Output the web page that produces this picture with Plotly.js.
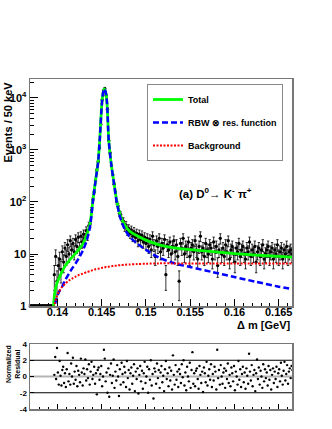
<!DOCTYPE html>
<html><head><meta charset="utf-8">
<script src="https://cdn.plot.ly/plotly-3.0.1.min.js"></script>
<style>html,body{margin:0;padding:0;background:#fff}#chart{width:332px;height:429px}</style>
</head><body><div id="chart"></div>
<script>
// ---- data ----
const binStart = 0.13665;   // centre of first data bin shown
const binWidth = 0.00015;
const counts = [
 0,0,0,0,0,0,0,0,0,0,0,0,0,0,0,0,0,0,0,0,
 4,9,3,6,8,5,11,7,13,9,15,10,18,12,16,11,19,14,21,13,22,17,24,20,28,23,35,38,70,
 110,155,260,410,600,1100,3100,9200,13800,15200,11200,6100,1530,880,500,335,220,155,100,84,
 60,57,44,43,33,36,28,31,25,29,22,27,21,25,18,24,19,23,17,21,16,
 20,14,19,12,22,15,9,18,14,20,
 11,16,13,19,4,15,12,17,10,14,
 18,11,15,9,3,16,13,20,10,14,
 12,17,9,13,15,11,18,12,8,14,
 22,11,13,9,16,12,10,15,13,8,
 17,11,14,6,12,20,10,13,9,15,
 11,18,8,12,14,10,7,13,11,16,
 9,12,14,10,8,13,11,17,9,12,
 10,14,7,11,13,9,12,15,8,10,
 12,14,9,11,13,8,12,10,15,9,
 11,13,8,12,10,14,9,11,12,10
];
const fitX = [0.13955,0.1397,0.1399,0.1402,0.1405,0.1409,0.1413,0.1417,0.1421,0.1425,0.1429,0.1433,0.1437,0.1440,0.1443,0.1446,0.1448,0.1450,0.14515,0.1453,0.14545,0.1456,0.1458,0.1461,0.1464,0.1467,0.1471,0.1476,0.1482,0.149,0.150,0.1515,0.153,0.155,0.1575,0.160,0.1625,0.165,0.1666];
const totalFit = [1.0,1.8,2.6,3.5,4.5,6.0,7.4,8.8,10.5,12.8,16,23,40,105,255,605,1805,7005,12505,15005,13005,8005,1505,505,226,106,56,36,27,22.5,18.5,15,13.2,12.1,11.1,10.2,9.5,9.0,8.7];
const rbwFit = [0.5,1.0,1.4,1.9,2.3,3.2,4.2,5.4,6.8,8.8,12,18,35,100,250,600,1800,7000,12500,15000,13000,8000,1500,500,220,100,50,30,21,16,12,8.5,6.8,5.6,4.5,3.6,2.9,2.35,2.1];
const bkgFit = [0.5,1.1,1.5,1.9,2.3,2.7,3.1,3.4,3.7,4.0,4.2,4.5,4.7,4.9,5.1,5.2,5.3,5.4,5.5,5.5,5.6,5.6,5.7,5.8,5.9,6.0,6.1,6.2,6.3,6.4,6.5,6.6,6.6,6.6,6.6,6.6,6.6,6.6,6.6];
const residStart = 0.13965;
const residStep = 0.0001;
const residuals = [
 0.2,2.4,-0.3,3.5,0.5,-1.0,1.9,0.1,-1.1,0.8,
 1.2,-0.8,0.4,-1.3,0.9,2.9,-0.6,0.3,-1.0,1.6,
 0.0,2.3,-0.9,0.6,-0.4,1.3,-1.2,0.7,0.2,-0.7,
 2.2,0.5,-1.1,1.0,0.3,2.1,-0.5,0.9,-0.2,1.5,
 -1.0,0.6,1.8,-0.3,0.2,1.2,-0.9,0.4,-2.2,0.8,
 1.1,-0.4,0.3,1.3,-1.2,0.0,3.3,2.2,-0.6,0.5,
 -2.0,1.0,-2.5,0.2,1.6,-0.8,0.1,2.1,-1.4,0.6,
 -0.5,1.4,0.0,-2.4,0.9,-1.0,1.7,0.3,-0.7,1.2,
 0.5,-1.3,1.9,-0.2,0.8,-1.6,0.4,1.1,-0.9,0.1,
 1.5,-1.8,0.6,-0.3,1.0,-2.1,0.2,1.3,-0.6,0.7,
 -1.5,0.4,1.8,-0.8,0.0,1.2,-2.0,0.9,-0.4,2.0,
 -1.1,0.3,-2.7,1.0,0.6,-0.9,1.6,-0.2,0.8,-1.4,
 0.5,1.3,-0.7,0.1,-1.8,0.9,1.9,-0.3,0.4,-1.2,
 1.1,-0.5,0.7,-1.6,2.6,0.2,-1.0,1.4,-0.4,0.6,
 -1.3,0.9,0.3,-0.8,1.5,-0.1,2.0,-1.1,0.5,-1.7,
 1.2,0.0,-0.6,1.7,-1.4,0.8,3.0,-0.9,0.4,-1.2,
 0.7,1.0,-0.3,-1.5,1.3,0.2,-0.8,0.6,-1.9,1.1,
 0.4,-0.7,1.8,-1.1,0.1,0.9,-0.4,1.5,-1.3,0.3,
 -0.5,1.2,0.6,-1.6,3.3,-0.2,0.8,-1.0,1.4,0.0,
 -0.9,0.5,1.0,-1.4,0.7,-0.3,1.6,-0.8,0.2,-1.2,
 1.1,0.4,-0.6,1.3,-1.7,0.6,0.0,-1.0,1.9,-0.4,
 0.9,-1.3,0.3,1.2,-0.7,0.5,-1.5,1.0,0.1,-0.9,
 2.8,0.6,-0.5,1.4,-1.2,0.2,0.8,-1.8,0.4,2.1,
 -0.3,1.1,-1.0,0.7,0.0,-1.4,1.5,-0.6,0.9,-0.2,
 0.5,-1.1,1.3,-0.4,0.8,-1.6,0.2,1.0,-0.8,0.6,
 -0.3,1.2,-1.3,0.4,0.9,-0.6,1.7,0.1,-1.0,0.7,
 1.8,-0.5,0.3,1.4,-0.9,0.6,1.0,-0.2,1.3,0.8
];
const xTickVals = [0.14,0.145,0.15,0.155,0.16,0.165];
const xTickText = ['0.14','0.145','0.15','0.155','0.16','0.165'];
const yTickVals = [1,10,100,1000,10000];
const yTickText = ['1','10','10<sup>2</sup>','10<sup>3</sup>','10<sup>4</sup>'];
const resTickVals = [-4,-2,0,2,4];
const resTickText = ['-4','-2','0','2','4'];
const seriesNames = ['Total','RBW \u2297 res. function','Background'];

// ---- build traces ----
const dataX = counts.map((c,i)=>binStart+i*binWidth);
const filledX=[], filledY=[], filledErr=[], emptyX=[], emptyY=[];
counts.forEach((c,i)=>{
  if(c>0){filledX.push(dataX[i]);filledY.push(c);filledErr.push(Math.sqrt(c));}
  else {emptyX.push(dataX[i]);emptyY.push(1);} // empty bins drawn at the axis floor, as ROOT does on log scale
});
const residX = residuals.map((r,k)=>residStart+k*residStep);

const minorY=[];
for(let d=0; d<5; d++){for(let k=2;k<10;k++){const v=k*Math.pow(10,d); if(v<23000) minorY.push(v);}}

const F = 'Liberation Sans, Arial, Helvetica, sans-serif';
const traces = [
 {x:filledX, y:filledY, type:'scatter', mode:'markers', xaxis:'x', yaxis:'y', showlegend:false,
  marker:{color:'#000', size:3.3},
  error_y:{type:'data', array:filledErr, visible:true, color:'#000', thickness:0.8, width:1.2}},
 {x:emptyX, y:emptyY, type:'scatter', mode:'lines+markers', xaxis:'x', yaxis:'y', showlegend:false, cliponaxis:false,
  marker:{color:'#000', size:3.3, symbol:'square'}, line:{color:'#000', width:2}},
 {x:fitX, y:totalFit, type:'scatter', mode:'lines', name:seriesNames[0], legendgroup:'a', xaxis:'x', yaxis:'y',
  line:{color:'#00ff00', width:2.8, shape:'spline', smoothing:0.8}},
 {x:fitX, y:rbwFit, type:'scatter', mode:'lines', name:seriesNames[1], legendgroup:'b', xaxis:'x', yaxis:'y',
  line:{color:'#0000ff', width:2.5, dash:'6px,3px', shape:'spline', smoothing:0.8}},
 {x:fitX, y:bkgFit, type:'scatter', mode:'lines', name:seriesNames[2], legendgroup:'c', xaxis:'x', yaxis:'y',
  line:{color:'#ff0000', width:2, dash:'2px,1.5px', shape:'spline', smoothing:0.8}},
 {x:residX, y:residuals, type:'scatter', mode:'markers', xaxis:'x2', yaxis:'y2', showlegend:false,
  marker:{color:'#000', size:2.4}}
];

const XD = [30/332, 292/332];
const XR = [0.1369, 0.1665];
const tickFont = {family:F, size:11, color:'#000', weight:'bold'};
const layout = {
 width:332, height:429, margin:{l:0,r:0,t:0,b:0},
 paper_bgcolor:'#fff', plot_bgcolor:'#fff',
 xaxis:{domain:XD, range:XR, anchor:'y', tickmode:'array', tickvals:xTickVals, ticktext:xTickText,
   ticks:'inside', ticklen:7, tickcolor:'#000', tickwidth:1, showgrid:false, zeroline:false,
   showline:true, linecolor:'#777', linewidth:1.5, mirror:true, tickfont:tickFont, ticklabelstandoff:-5,
   minor:{tick0:0.14, dtick:0.001, ticks:'inside', ticklen:3.5, tickcolor:'#000', showgrid:false}},
 yaxis:{domain:[1-306/429, 1-79/429], type:'log', range:[0,4.365], anchor:'x', tickmode:'array',
   tickvals:yTickVals, ticktext:yTickText, ticks:'inside', ticklen:8, tickcolor:'#000', showgrid:false,
   zeroline:false, showline:true, linecolor:'#777', linewidth:1.5, mirror:true, tickfont:tickFont,
   minor:{tickmode:'array', tickvals:minorY, ticks:'inside', ticklen:4, tickcolor:'#000', showgrid:false}},
 xaxis2:{domain:XD, range:XR, anchor:'y2', tickmode:'array', tickvals:xTickVals, showticklabels:false,
   ticks:'inside', ticklen:5, tickcolor:'#000', showgrid:false, zeroline:false,
   showline:true, linecolor:'#777', linewidth:1.5, mirror:true,
   minor:{tick0:0.14, dtick:0.001, ticks:'inside', ticklen:2.5, tickcolor:'#000', showgrid:false}},
 yaxis2:{domain:[1-409/429, 1-344/429], range:[-4,4], anchor:'x2', tickmode:'array',
   tickvals:resTickVals, ticktext:resTickText, ticks:'inside', ticklen:4, tickcolor:'#000', showgrid:false,
   zeroline:false, showline:true, linecolor:'#777', linewidth:1.5, mirror:true,
   tickfont:{family:F, size:8, color:'#000', weight:'bold'}},
 shapes:[
  {type:'line', xref:'paper', yref:'y2', x0:XD[0], x1:XD[1], y0:0, y1:0, line:{color:'#b4b4b4', width:2}, layer:'below'},
  {type:'line', xref:'paper', yref:'y2', x0:XD[0], x1:XD[1], y0:2, y1:2, line:{color:'#000', width:1}, layer:'below'},
  {type:'line', xref:'paper', yref:'y2', x0:XD[0], x1:XD[1], y0:-2, y1:-2, line:{color:'#000', width:1}, layer:'below'}
 ],
 showlegend:true,
 legend:{x:147/332, y:1-84/429, xanchor:'left', yanchor:'top', bgcolor:'#fff', bordercolor:'#888', borderwidth:1,
   font:{family:F, size:9, color:'#000', weight:'bold'}, traceorder:'grouped', tracegroupgap:4},
 annotations:[
  {xref:'paper', yref:'paper', x:7/332, y:1-80/429, xanchor:'center', yanchor:'top', textangle:-90, showarrow:false,
   text:'Events / 50 keV', font:{family:F, size:11, color:'#000', weight:'bold'}},
  {xref:'paper', yref:'paper', x:292/332, y:1-325/429, xanchor:'right', yanchor:'middle', showarrow:false,
   text:'\u0394 m [GeV]', font:{family:F, size:11, color:'#000', weight:'bold'}},
  {xref:'paper', yref:'paper', x:13/332, y:1-343/429, xanchor:'center', yanchor:'top', textangle:-90, showarrow:false,
   text:'Normalized<br>Residual', font:{family:F, size:7, color:'#000', weight:'bold'}},
  {xref:'paper', yref:'paper', x:177/332, y:1-193/429, xanchor:'left', yanchor:'middle', showarrow:false,
   text:'(a) D<sup>0</sup>\u2192 K<sup>-</sup> \u03c0<sup>+</sup>', font:{family:F, size:11.5, color:'#000', weight:'bold'}}
 ]
};
Plotly.newPlot('chart', traces, layout, {staticPlot:true, displayModeBar:false});
</script></body></html>
